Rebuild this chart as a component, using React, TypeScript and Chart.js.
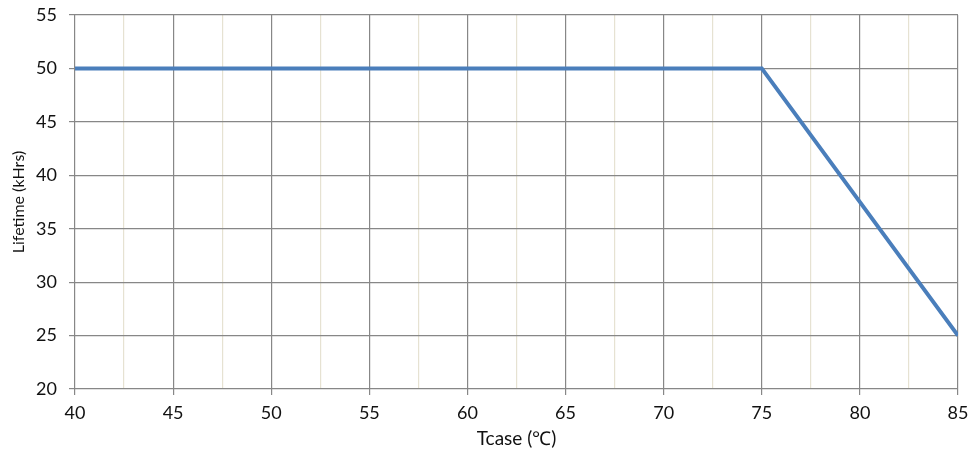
import React, { useEffect, useRef } from "react";
import { Chart, registerables } from "chart.js";

Chart.register(...registerables);

const tcase = [40, 75, 85];
const lifetime = [50, 50, 25];
const xTitle = "Tcase (\u2103)";
const yTitle = "Lifetime (kHrs)";

const FONT = "Lato, 'Open Sans', sans-serif";
const MAJOR = "#878787";
const MINOR = "#e6e2d2";

export default function App() {
  const ref = useRef<HTMLCanvasElement>(null);
  useEffect(() => {
    document.body.style.margin = "0";
    const ctx = ref.current!;
    const chart = new Chart(ctx, {
      type: "scatter",
      data: {
        datasets: [
          {
            data: tcase.map((x, i) => ({ x, y: lifetime[i] })),
            showLine: true,
            borderColor: "#4a7ebb",
            backgroundColor: "#4a7ebb",
            borderWidth: 4,
            pointRadius: 0,
            tension: 0,
          },
        ],
      },
      options: {
        animation: false,
        responsive: false,
        devicePixelRatio: 1,
        layout: { padding: { top: 15, right: 12, left: 0, bottom: 0 } },
        plugins: { legend: { display: false }, tooltip: { enabled: false } },
        scales: {
          x: {
            type: "linear",
            min: 40,
            max: 85,
            afterBuildTicks: (s: any) => {
              const t = [];
              for (let v = 40; v <= 85; v += 2.5) t.push({ value: v });
              s.ticks = t;
            },
            afterFit: (s: any) => {
              s.height = 64;
              s.paddingLeft = 0;
              s.paddingRight = 0;
            },
            border: { display: false },
            grid: {
              color: (c: any) => (c.tick && c.tick.value % 5 === 0 ? MAJOR : MINOR),
              tickColor: (c: any) => (c.tick && c.tick.value % 5 === 0 ? MAJOR : "rgba(0,0,0,0)"),
              lineWidth: 1.2,
              tickLength: 6,
            },
            ticks: {
              autoSkip: false,
              maxRotation: 0,
              padding: 7,
              color: "#111",
              font: { family: FONT, size: 18 },
              callback: (v: any) => (Number(v) % 5 === 0 ? String(v) : ""),
            },
            title: {
              display: true,
              text: xTitle,
              color: "#111",
              font: { family: FONT, size: 19 },
              padding: { top: 0, bottom: 3 },
            },
          },
          y: {
            type: "linear",
            min: 20,
            max: 55,
            afterFit: (s: any) => {
              s.width = 75;
              s.paddingTop = 0;
              s.paddingBottom = 0;
            },
            border: { display: false },
            grid: {
              color: MAJOR,
              tickColor: MAJOR,
              lineWidth: 1.2,
              tickLength: 6,
            },
            ticks: {
              stepSize: 5,
              padding: 12,
              color: "#111",
              font: { family: FONT, size: 18 },
            },
            title: {
              display: true,
              text: yTitle,
              color: "#111",
              font: { family: FONT, size: 16 },
              padding: { top: 9, bottom: 0 },
            },
          },
        },
      },
    });
    return () => chart.destroy();
  }, []);
  return (
    <div style={{ position: "absolute", left: 0, top: 0, width: 970, height: 453 }}>
      <canvas ref={ref} width={970} height={453} style={{ width: 970, height: 453 }} />
    </div>
  );
}
